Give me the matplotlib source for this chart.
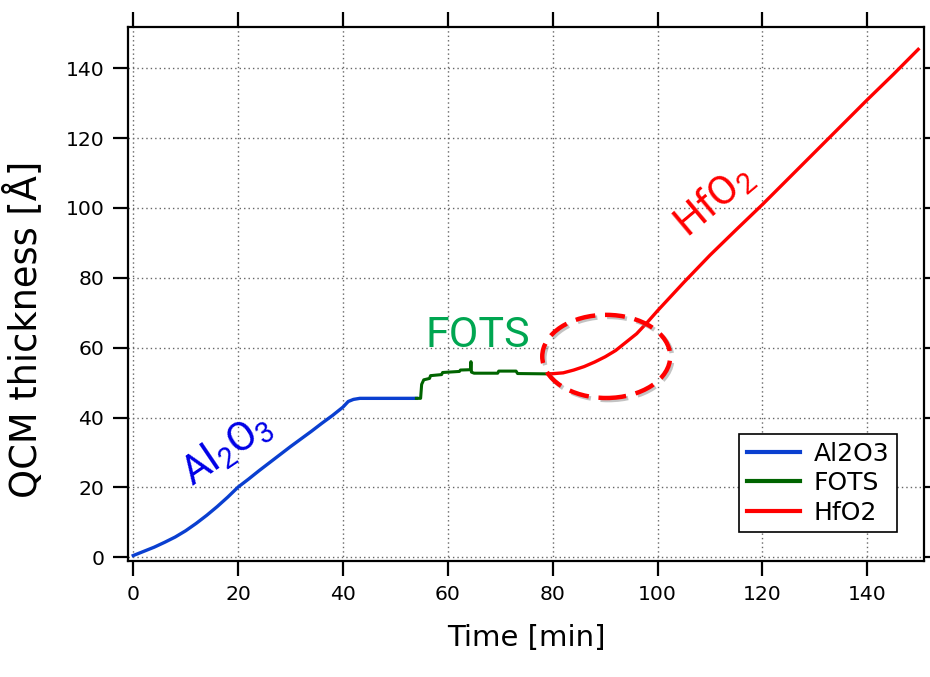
import matplotlib
matplotlib.use("Agg")
import matplotlib.pyplot as plt
from matplotlib.patches import Ellipse
import matplotlib.patheffects as pe

# ---- data ----
al_t = [0, 2, 4, 6, 8, 10, 12, 14, 16, 18, 20, 22, 24, 26, 28, 30, 32, 34, 36, 38, 40, 41, 42, 43.2, 54.0]
al_y = [0.5, 1.7, 2.9, 4.3, 5.8, 7.6, 9.7, 12.0, 14.5, 17.2, 20.1, 22.4, 24.8, 27.1, 29.4, 31.7, 33.9, 36.1, 38.4, 40.6, 43.0, 44.6, 45.2, 45.5, 45.5]

fots_t = [54.0, 54.8, 55.0, 55.4, 56.5, 56.7, 58.8, 59.0, 62.2, 62.4, 64.3, 64.4, 64.5, 65.0, 69.5, 69.7, 73.0, 73.3, 79.5]
fots_y = [45.5, 45.5, 49.5, 50.8, 51.2, 52.0, 52.3, 52.9, 53.2, 53.6, 53.7, 56.0, 53.0, 52.7, 52.7, 53.3, 53.3, 52.6, 52.5]

hf_t = [79.5, 82, 84, 86, 88, 90, 92, 94, 96, 98, 100, 105, 110, 115, 120, 125, 130, 135, 140, 145, 149.7]
hf_y = [52.5, 52.8, 53.6, 54.6, 55.9, 57.4, 59.2, 61.6, 64.0, 67.2, 70.6, 78.7, 86.5, 93.8, 101.0, 108.5, 116.0, 123.5, 131.0, 138.3, 145.4]

series_names = ["Al2O3", "FOTS", "HfO2"]
series_colors = ["#0a3fd0", "#006400", "#ff0000"]

x_ticks = [0, 20, 40, 60, 80, 100, 120, 140]
y_ticks = [0, 20, 40, 60, 80, 100, 120, 140]

label_font = ["Roboto", "DejaVu Sans"]

plt.rcParams["xtick.labelsize"] = 14.7
plt.rcParams["ytick.labelsize"] = 14.7
plt.rcParams["xtick.major.size"] = 11
plt.rcParams["ytick.major.size"] = 11
plt.rcParams["xtick.major.width"] = 1.6
plt.rcParams["ytick.major.width"] = 1.6
plt.rcParams["xtick.major.pad"] = 6
plt.rcParams["ytick.major.pad"] = 6

fig = plt.figure(figsize=(9.3, 6.77), dpi=100)
ax = fig.add_axes([128 / 930, 116 / 677, 796 / 930, 534 / 677])

ax.plot(al_t, al_y, color=series_colors[0], lw=2.4, label=series_names[0], zorder=3)
ax.plot(fots_t, fots_y, color=series_colors[1], lw=2.2, label=series_names[1], zorder=3)
ax.plot(hf_t, hf_y, color=series_colors[2], lw=2.4, label=series_names[2], zorder=3)

ax.set_xlim(-1.0, 150.8)
ax.set_ylim(-1.06, 151.8)
ax.set_xticks(x_ticks)
ax.set_yticks(y_ticks)

ax.grid(True, color="#666666", linestyle=(0, (1, 2.2)), linewidth=1.0)
ax.set_axisbelow(True)

for s in ax.spines.values():
    s.set_linewidth(1.6)
    s.set_color("black")

ax.tick_params(axis="both", which="major", direction="out",
               top=True, right=True, labeltop=False, labelright=False)

ax.set_xlabel("Time [min]", fontsize=21, labelpad=15)
ax.set_ylabel("QCM thickness [Å]", fontsize=26.5)
ax.yaxis.set_label_coords(-0.104, 0.433)

# annotations
ax.text(17.8, 30.9, r"$\mathregular{Al_2O_3}$", color="#0000e6", fontsize=29.5,
        family=label_font, rotation=34, rotation_mode="anchor",
        ha="center", va="center", zorder=4)
ax.text(65.7, 60.3, "FOTS", color="#00a651", fontsize=31, family=label_font,
        ha="center", va="baseline", zorder=4)
ax.text(110.8, 102.3, r"$\mathregular{HfO_2}$", color="#ff0000", fontsize=29.5,
        family=label_font, rotation=40, rotation_mode="anchor",
        ha="center", va="center", zorder=4)

ell = Ellipse((90.2, 57.5), width=24.4, height=23.8, fill=False,
              edgecolor="#ff0000", linewidth=3.2, linestyle=(0, (4.5, 2.2)), zorder=5)
ell.set_path_effects([pe.SimpleLineShadow(offset=(1.5, -1.5), shadow_color="#888888", alpha=0.5),
                      pe.Normal()])
ax.add_patch(ell)

leg = ax.legend(loc="lower right", bbox_to_anchor=(0.966, 0.054), fontsize=18,
                frameon=True, fancybox=False, framealpha=1, edgecolor="black",
                handlelength=2.12, handletextpad=0.56, labelspacing=0.22,
                borderpad=0.3, borderaxespad=0)
leg.get_frame().set_linewidth(1.2)
for line in leg.get_lines():
    line.set_linewidth(3)

fig.savefig("out.png", dpi=100)
